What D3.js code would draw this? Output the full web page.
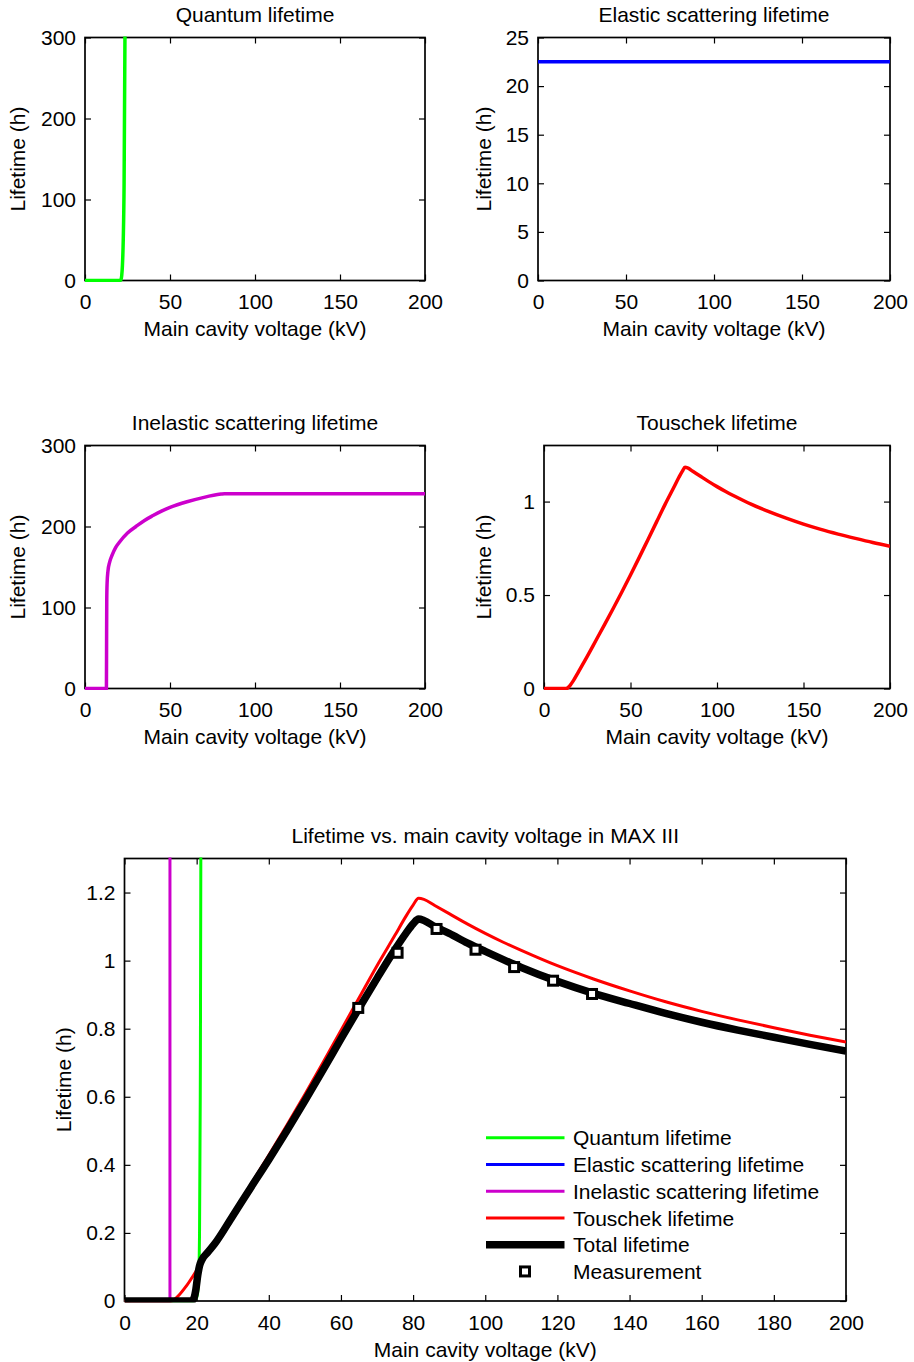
<!DOCTYPE html>
<html>
<head>
<meta charset="utf-8" />
<script src="https://d3js.org/d3.v7.min.js"></script>
<style type="text/css">
    body { margin: 0; background: #fff; }
    svg#mainSvg {
        width: 914px;
        height: 1362px;
        display: block;
        background: #fff;
        font-family: "Liberation Sans", Arial, Helvetica, sans-serif;
    }
    .frame { fill: none; stroke: #000; stroke-width: 1.7; }
    .tick line { stroke: #000; stroke-width: 1.2; }
    .tick text { font-size: 21px; fill: #000; font-family: "Liberation Sans", Arial, sans-serif; }
    text.lbl { font-size: 21px; fill: #000; }
    path.curve { fill: none; stroke-linejoin: round; stroke-linecap: butt; }
</style>
</head>
<body>
<svg id="mainSvg"></svg>

<script type="text/javascript">
// ---- data (kV -> hours) ----
const quantumKV = [0, 19, 20, 20.5, 20.8, 21, 21.3, 21.6, 22, 22.5, 23, 23.5, 24];
const quantumH  = [0, 0, 0.01, 0.05, 0.2, 0.6, 2, 6, 18, 50, 120, 300, 700];

const elasticKV = [0, 200];
const elasticH  = [22.5, 22.5];

const inelasticKV = [0, 12.6, 12.7, 12.8, 13, 13.5, 14.5, 16, 18, 20, 25, 30, 35, 40, 45, 50, 60, 70, 80, 82, 200];
const inelasticH  = [0, 0, 60, 110, 130, 145, 156, 165, 174, 180, 192, 200, 207.5, 213.5, 219, 223.5, 230.5, 236, 240, 240.5, 240.5];

const touschekKV = [0, 13, 14, 15, 17, 20, 25, 30, 35, 40, 45, 50, 55, 60, 65, 70, 75, 78, 80, 81.5, 83, 86, 90, 95, 100, 105, 110, 120, 130, 140, 150, 160, 170, 180, 190, 200];
const touschekH  = [0, 0, 0.006, 0.016, 0.042, 0.09, 0.172, 0.257, 0.342, 0.428, 0.516, 0.607, 0.7, 0.795, 0.89, 0.985, 1.075, 1.13, 1.163, 1.183, 1.18, 1.162, 1.138, 1.108, 1.08, 1.054, 1.03, 0.985, 0.946, 0.911, 0.879, 0.851, 0.826, 0.803, 0.781, 0.761];

const totalKV = [0, 18.6, 19.3, 19.8, 20.3, 20.8, 21.4, 23, 25, 30, 35, 40, 45, 50, 55, 60, 65, 70, 75, 78, 80, 81.5, 83, 86, 90, 95, 100, 105, 110, 120, 130, 140, 150, 160, 170, 180, 190, 200];
const totalH  = [0, 0, 0.01, 0.035, 0.075, 0.103, 0.12, 0.142, 0.168, 0.25, 0.333, 0.415, 0.5, 0.588, 0.678, 0.77, 0.86, 0.948, 1.033, 1.08, 1.108, 1.122, 1.118, 1.1, 1.08, 1.052, 1.027, 1.003, 0.98, 0.939, 0.904, 0.874, 0.845, 0.819, 0.796, 0.775, 0.754, 0.734];

const measKV = [64.8, 75.7, 86.5, 97.3, 108, 118.8, 129.6];
const measH  = [0.861, 1.023, 1.093, 1.032, 0.981, 0.941, 0.902];

// tick labels
const xTicksSmall = [0, 50, 100, 150, 200];
const xTicksBig   = [0, 20, 40, 60, 80, 100, 120, 140, 160, 180, 200];
const yTicksQ     = [0, 100, 200, 300];
const yTicksE     = [0, 5, 10, 15, 20, 25];
const yTicksT     = [0, 0.5, 1];
const yTicksBig   = [0, 0.2, 0.4, 0.6, 0.8, 1, 1.2];

// legend
const legendNames  = ["Quantum lifetime", "Elastic scattering lifetime", "Inelastic scattering lifetime", "Touschek lifetime", "Total lifetime", "Measurement"];
const colGreen = "#00ff00", colBlue = "#0000ff", colMag = "#cc00cc", colRed = "#ff0000";

const svg = d3.select("#mainSvg");
let clipN = 0;

function zip(xs, ys) { return xs.map((v, i) => [v, ys[i]]); }

// one axes box, MATLAB style: ticks inside, on all four sides
function panel(box, xMax, yMax, xTicks, yTicks, title, ylabX) {
    const x = d3.scaleLinear().domain([0, xMax]).range([box.l, box.r]);
    const y = d3.scaleLinear().domain([0, yMax]).range([box.b, box.t]);
    const g = svg.append("g");

    const id = "clip" + (clipN++);
    svg.append("clipPath").attr("id", id)
        .append("rect")
        .attr("x", box.l).attr("y", box.t - 1)
        .attr("width", box.r - box.l).attr("height", box.b - box.t + 2.5);

    const fmt = d => String(d);
    g.append("g").attr("transform", "translate(0," + box.b + ")")
        .call(d3.axisBottom(x).tickValues(xTicks).tickFormat(fmt).tickSize(-6).tickPadding(14));
    g.append("g").attr("transform", "translate(0," + box.t + ")")
        .call(d3.axisTop(x).tickValues(xTicks).tickFormat("").tickSize(-6));
    g.append("g").attr("transform", "translate(" + box.l + ",0)")
        .call(d3.axisLeft(y).tickValues(yTicks).tickFormat(fmt).tickSize(-6).tickPadding(9));
    g.append("g").attr("transform", "translate(" + box.r + ",0)")
        .call(d3.axisRight(y).tickValues(yTicks).tickFormat("").tickSize(-6));
    g.selectAll(".domain").remove();
    g.selectAll(".tick text").attr("font-size", null).attr("font-family", null);

    g.append("rect").attr("class", "frame")
        .attr("x", box.l).attr("y", box.t)
        .attr("width", box.r - box.l).attr("height", box.b - box.t);

    // title and labels
    g.append("text").attr("class", "lbl")
        .attr("x", (box.l + box.r) / 2).attr("y", box.t - 16)
        .attr("text-anchor", "middle").text(title);
    g.append("text").attr("class", "lbl")
        .attr("x", (box.l + box.r) / 2).attr("y", box.b + 55.5)
        .attr("text-anchor", "middle").text("Main cavity voltage (kV)");
    g.append("text").attr("class", "lbl")
        .attr("transform", "translate(" + ylabX + "," + (box.t + box.b) / 2 + ") rotate(-90)")
        .attr("text-anchor", "middle").attr("dy", "0.36em")
        .text("Lifetime (h)");

    const plot = svg.append("g").attr("clip-path", "url(#" + id + ")");
    return { x, y, plot };
}

function curve(p, xs, ys, color, w) {
    const line = d3.line()
        .x(d => p.x(d[0])).y(d => p.y(d[1]))
        .curve(d3.curveMonotoneX);
    p.plot.append("path").attr("class", "curve")
        .attr("d", line(zip(xs, ys)))
        .attr("stroke", color).attr("stroke-width", w);
}

// ---- four small panels ----
const p1 = panel({ l: 85, r: 425, t: 37.5, b: 280.5 }, 200, 300, xTicksSmall, yTicksQ, "Quantum lifetime", 17);
curve(p1, quantumKV, quantumH, colGreen, 3.5);

const p2 = panel({ l: 538, r: 890, t: 37.5, b: 280.5 }, 200, 25, xTicksSmall, yTicksE, "Elastic scattering lifetime", 483.5);
curve(p2, elasticKV, elasticH, colBlue, 3.5);

const p3 = panel({ l: 85, r: 425, t: 445.5, b: 688.5 }, 200, 300, xTicksSmall, yTicksQ, "Inelastic scattering lifetime", 17.5);
curve(p3, inelasticKV, inelasticH, colMag, 3.5);

const p4 = panel({ l: 544, r: 890, t: 445.5, b: 688.5 }, 200, 1.3, xTicksSmall, yTicksT, "Touschek lifetime", 483.5);
curve(p4, touschekKV, touschekH, colRed, 3.5);

// ---- combined panel ----
const p5 = panel({ l: 124.5, r: 846, t: 858.5, b: 1301 }, 200, 1.3, xTicksBig, yTicksBig, "Lifetime vs. main cavity voltage in MAX III", 63);
curve(p5, quantumKV, quantumH, colGreen, 3);
curve(p5, elasticKV, elasticH, colBlue, 3);
curve(p5, inelasticKV, inelasticH, colMag, 3);
curve(p5, touschekKV, touschekH, colRed, 3);
curve(p5, totalKV, totalH, "#000", 7.5);

p5.plot.append("g").selectAll("rect")
    .data(zip(measKV, measH))
    .enter().append("rect")
    .attr("x", d => p5.x(d[0]) - 4.5)
    .attr("y", d => p5.y(d[1]) - 4.5)
    .attr("width", 9).attr("height", 9)
    .attr("fill", "#fff").attr("stroke", "#000").attr("stroke-width", 3);

// legend
const legStyles = [
    { c: colGreen, w: 3 }, { c: colBlue, w: 3 }, { c: colMag, w: 3 },
    { c: colRed, w: 3 }, { c: "#000", w: 7.5 }, null
];
const leg = svg.append("g");
legendNames.forEach((name, i) => {
    const yy = 1137.7 + i * 26.75;
    if (legStyles[i]) {
        leg.append("line").attr("x1", 486).attr("x2", 564.5).attr("y1", yy).attr("y2", yy)
            .attr("stroke", legStyles[i].c).attr("stroke-width", legStyles[i].w);
    } else {
        leg.append("rect").attr("x", 525 - 4.5).attr("y", yy - 4.5)
            .attr("width", 9).attr("height", 9)
            .attr("fill", "#fff").attr("stroke", "#000").attr("stroke-width", 3);
    }
    leg.append("text").attr("class", "lbl")
        .attr("x", 573).attr("y", yy).attr("dy", "0.36em").text(name);
});
</script>
</body>
</html>
